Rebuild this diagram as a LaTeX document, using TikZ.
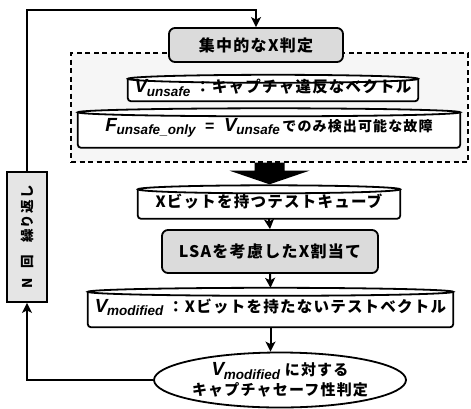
\documentclass[tikz,border=0pt]{standalone}
\usepackage{fontspec}
\setmainfont{Liberation Sans}
\newfontfamily\jp{Noto Sans CJK JP}[LetterSpace=8]
\usetikzlibrary{arrows.meta,shapes.geometric,calc}
\pgfdeclarelayer{bgzero}
\pgfdeclarelayer{bgone}
\pgfsetlayers{bgzero,bgone,main}
\newcommand\Vs[4]{{\rmfamily\bfseries\itshape\fontsize{#3}{#3}\selectfont #1\kern-0.3pt\raisebox{-3.5pt}{\fontsize{#4}{#4}\selectfont #2}}}
\newcommand\capdraw[1]{%
  \draw[lw, fill=white, rounded corners=3pt] let \p1=(#1.north west), \p2=(#1.south east) in
    (\x1,\y1-4pt) -- (\x1,\y2) -- (\x2,\y2) -- (\x2,\y1-4pt);
  \draw[lw, fill=white] let \p1=(#1.north west), \p2=(#1.north east) in
    ($(#1.north)+(0,-4pt)$) ellipse [x radius={(\x2-\x1)/2}, y radius=4pt];
}
\tikzset{
  lw/.style={line width=1.8pt},
  arr/.style={line width=2pt, -{Stealth[length=10pt,width=10pt,inset=2.5pt]}},
  rbox/.style={draw, lw, rounded corners=6pt, fill=gray!28, inner sep=0pt,
    font=\jp\bfseries\fontsize{16}{18}\selectfont},
  capbox/.style={inner sep=0pt, font=\jp\bfseries\fontsize{15.5}{18}\selectfont},
}
\begin{document}
\begin{tikzpicture}[x=1pt,y=-1pt]
\useasboundingbox (0,0) rectangle (471,408);
\begin{pgfonlayer}{bgzero}
\node[draw, dashed, line width=1.3pt, dash pattern=on 5pt off 3.5pt, fill=gray!7, minimum width=397pt, minimum height=109pt, inner sep=0pt] (grp) at (269.5,107.5) {};
\end{pgfonlayer}
\node[rbox, minimum width=174pt, minimum height=34pt] (judge) at (256,45) {集中的なX判定};
\node[capbox, minimum width=290pt, minimum height=26pt] (vun) at (273,88)
  {\Vs{V}{unsafe}{19}{13.5}\ ：キャプチャ違反なベクトル};
\node[capbox, minimum width=382pt, minimum height=39pt] (fun) at (269,128)
  {\Vs{F}{unsafe\_only}{19}{13.5}\ \ {\rmfamily\bfseries\fontsize{16}{16}\selectfont =}\ \ \Vs{V}{unsafe}{19}{13.5}\,{\fontsize{14}{16}\selectfont でのみ検出可能な故障}};
\node[capbox, minimum width=262pt, minimum height=33pt] (cube) at (269,202)
  {Xビットを持つテストキューブ};
\node[rbox, minimum width=216pt, minimum height=43pt] (lsa) at (270,251.5)
  {LSAを考慮したX割当て};
\node[capbox, minimum width=365pt, minimum height=39pt] (vmod) at (270.5,307.5)
  {\Vs{V}{modified}{19}{13.5}\ ：Xビットを持たないテストベクトル};
\node[draw, lw, ellipse, fill=white, minimum width=252pt, minimum height=55pt, inner sep=0pt,
  align=center, font=\jp\bfseries\fontsize{15}{20}\selectfont] (ell) at (280,380)
  {\Vs{V}{modified}{19}{13.5} に対する\\[0pt]キャプチャセーフ性判定};
\node[draw, lw, fill=gray!20, rotate=90, minimum width=130pt, minimum height=40pt, inner sep=0pt,
  font=\jp\bfseries\fontsize{13.5}{14}\selectfont] (nrep) at (27,237) {N\hspace{10pt}回\hspace{12pt}繰り返し};
\begin{pgfonlayer}{bgone}
\capdraw{vun}
\capdraw{fun}
\capdraw{cube}
\capdraw{vmod}
\end{pgfonlayer}
% big arrow
\fill let \p1=(grp.south), \p2=(cube.north) in
  (\x1-15pt,\y1) -- (\x1+15pt,\y1) -- (\x1+15pt,\y1-8pt) -- (\x1+40pt,\y1-8pt)
  -- (\x1,\y2+1pt) -- (\x1-40pt,\y1-8pt) -- (\x1-15pt,\y1-8pt) -- cycle;
\draw[arr] (cube.south) -- (lsa.north);
\draw[arr] (lsa.south) -- (vmod.north);
\draw[arr] (vmod.south) -- (vmod.south |- ell.north);
\draw[arr] (ell.west) -| (nrep.west);
\draw[arr] (nrep.east) |- (27,10) -| (judge.north);
\end{tikzpicture}
\end{document}
